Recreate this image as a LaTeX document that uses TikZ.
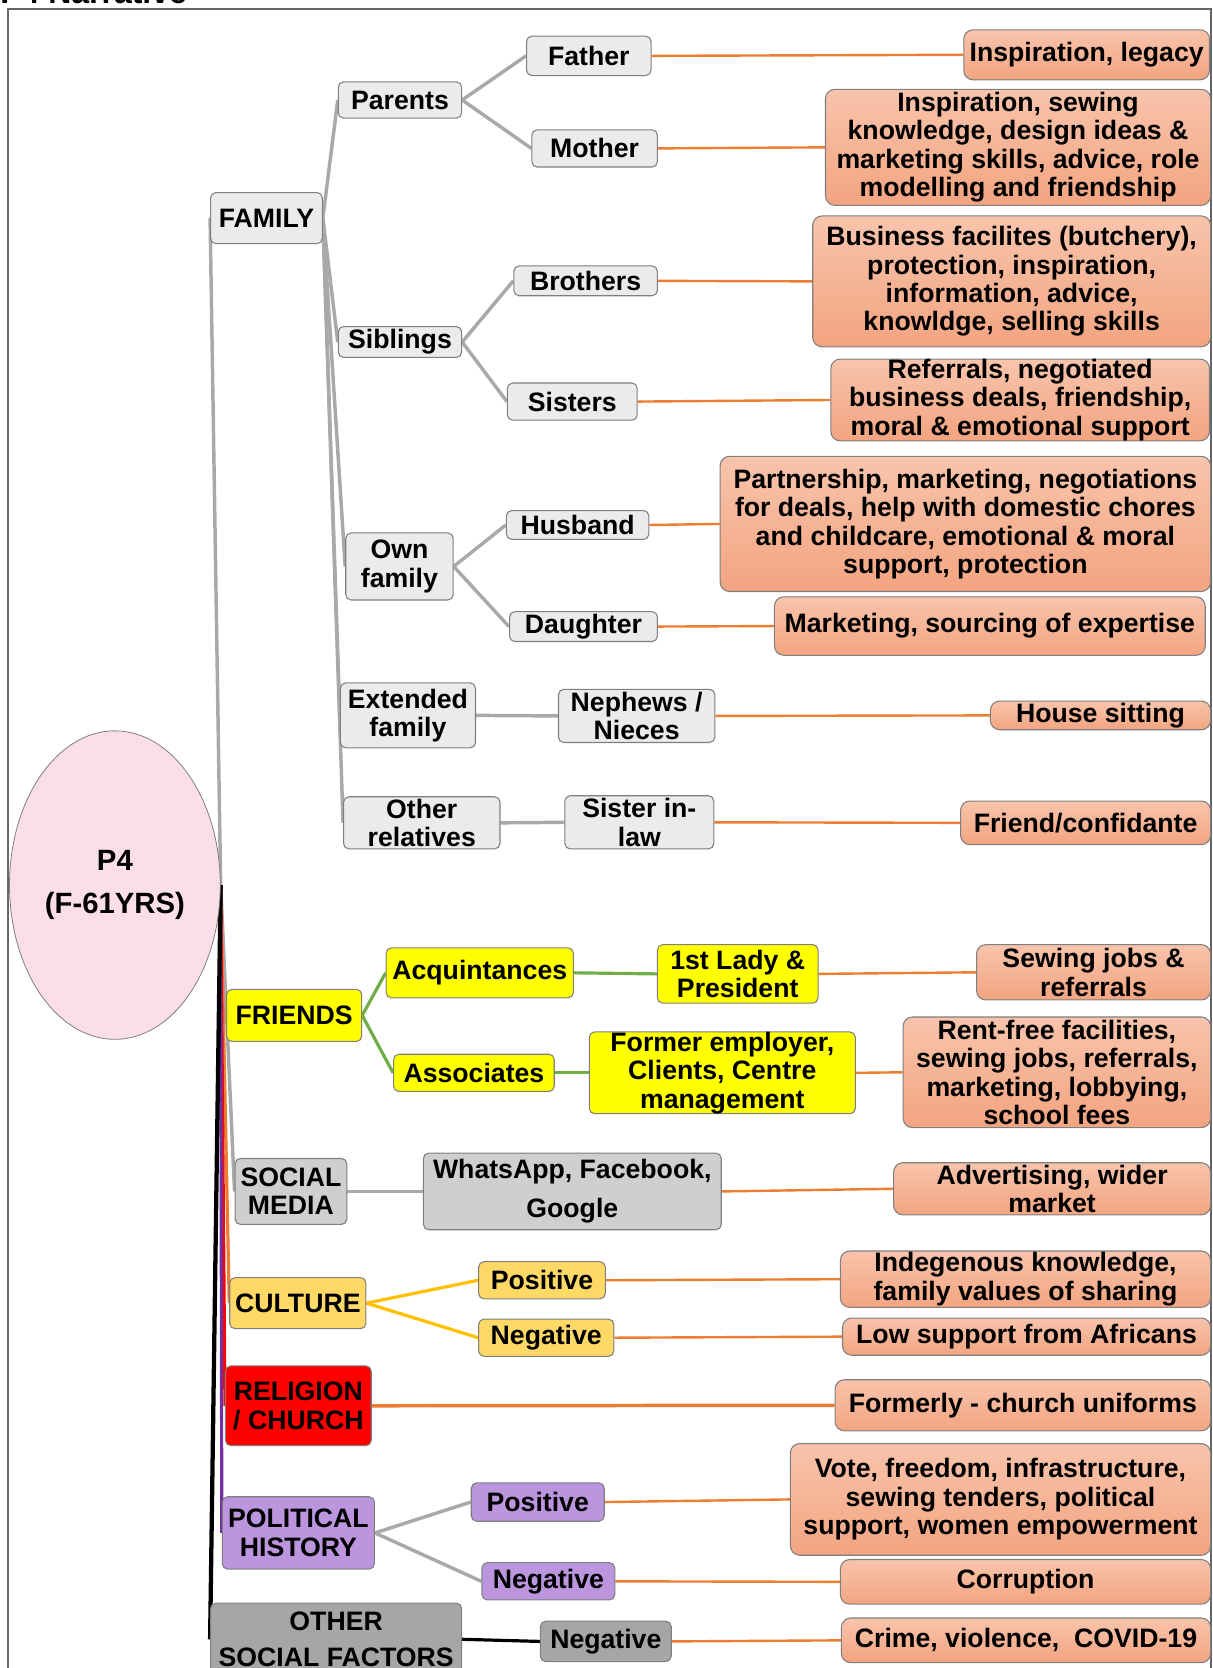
\documentclass[tikz,border=0pt]{standalone}
\usepackage{fontspec}
\setmainfont{Liberation Sans}
\usetikzlibrary{shapes.geometric}
\pgfdeclarelayer{bg}
\pgfsetlayers{bg,main}
\definecolor{famfill}{HTML}{EBEBEB}
\definecolor{boxline}{HTML}{7F7F7F}
\definecolor{leaftop}{RGB}{248,196,172}
\definecolor{leafbot}{RGB}{243,164,128}
\definecolor{yel}{HTML}{FFFF00}
\definecolor{smgray}{HTML}{D0CECE}
\definecolor{cult}{HTML}{FFD966}
\definecolor{relred}{HTML}{FF0000}
\definecolor{pol}{HTML}{BB95DD}
\definecolor{othgray}{HTML}{A6A6A6}
\definecolor{egofill}{RGB}{252,222,231}
\definecolor{lgray}{HTML}{A9A9A9}
\definecolor{orng}{HTML}{ED7D31}
\definecolor{grn}{HTML}{70AD47}
\definecolor{gold}{HTML}{FFC000}
\definecolor{purp}{HTML}{7030A0}
\tikzset{
  base/.style={draw=boxline, line width=0.8pt, rounded corners=4pt, inner sep=0pt,
    align=center, font=\bfseries\fontsize{20}{21.3}\selectfont},
  fam/.style={base, fill=famfill},
  leaf/.style={base, top color=leaftop, bottom color=leafbot, rounded corners=7pt},
  yelbox/.style={base, fill=yel},
  smbox/.style={base, fill=smgray},
  cultbox/.style={base, fill=cult},
  relbox/.style={base, fill=relred},
  polbox/.style={base, fill=pol},
  othbox/.style={base, fill=othgray},
  grayline/.style={draw=lgray, line width=2.6pt},
  orline/.style={draw=orng, line width=1.8pt},
  grline/.style={draw=grn, line width=2.4pt},
  goldline/.style={draw=gold, line width=2.4pt},
  blkline/.style={draw=black, line width=2.4pt},
}
\newcommand\mybox[7]{%
  \pgfmathsetmacro\mbw{(#5-#3)*0.798}%
  \pgfmathsetmacro\mbh{(#6-#4)*0.798}%
  \node[#2, minimum width=\mbw pt, minimum height=\mbh pt] (#1) at ({(#3+#5)/2},{(#4+#6)/2+1}) {#7};%
}
\begin{document}
\begin{tikzpicture}[x=0.798pt,y=-0.798pt]
\useasboundingbox (0,0) rectangle (1140,1568);
% frame and title
\draw[draw=boxline!80!black, line width=1.5pt] (7.5,1600) -- (7.5,8.5) -- (1138,8.5) -- (1138,1600);
\node[anchor=base west, inner sep=0pt, font=\bfseries\fontsize{24}{24}\selectfont] (title) at (0,3) {P4 Narrative};

% ego
\node[ellipse, draw=boxline, line width=0.6pt, fill=egofill, minimum width=196*0.798pt, minimum height=290*0.798pt,
  align=center, font=\bfseries\fontsize{22}{32}\selectfont] (ego) at (108,832) {P4\\(F-61YRS)};

% FAMILY
\mybox{family}{fam}{198}{180}{303}{228}{FAMILY}
\mybox{parents}{fam}{318}{76}{434}{110}{Parents}
\mybox{siblings}{fam}{318}{306}{434}{335}{Siblings}
\mybox{ownfam}{fam}{325}{500}{426}{563}{Own\\family}
\mybox{extfam}{fam}{320}{641}{447}{702}{Extended\\family}
\mybox{othrel}{fam}{323}{748}{470}{797}{Other\\relatives}
\mybox{father}{fam}{495}{33}{612}{70}{Father}
\mybox{mother}{fam}{500}{121}{618}{156}{Mother}
\mybox{brothers}{fam}{483}{249}{618}{277}{Brothers}
\mybox{sisters}{fam}{477}{359}{599}{394}{Sisters}
\mybox{husband}{fam}{476}{479}{610}{506}{Husband}
\mybox{daughter}{fam}{479}{574}{618}{602}{Daughter}
\mybox{nephews}{fam}{525}{647}{672}{697}{Nephews /\\Nieces}
\mybox{sil}{fam}{531}{747}{671}{797}{Sister in-\\law}

% leaves
\mybox{lfather}{leaf}{906}{27}{1137}{74}{Inspiration, legacy}
\mybox{lmother}{leaf}{776}{83}{1138}{192}{Inspiration, sewing\\knowledge, design ideas \&\\marketing skills, advice, role\\modelling and friendship}
\mybox{lbrothers}{leaf}{764}{202}{1138}{325}{Business facilites (butchery),\\protection, inspiration,\\information, advice,\\knowldge, selling skills}
\mybox{lsisters}{leaf}{781}{337}{1137}{413}{Referrals, negotiated\\business deals, friendship,\\moral \& emotional support}
\mybox{lhusband}{leaf}{677}{428}{1138}{555}{Partnership, marketing, negotiations\\for deals, help with domestic chores\\and childcare, emotional \& moral\\support, protection}
\mybox{ldaughter}{leaf}{728}{560}{1133}{615}{Marketing, sourcing of expertise}
\mybox{lnephews}{leaf}{931}{658}{1138}{685}{House sitting}
\mybox{lsil}{leaf}{903}{752}{1138}{793}{Friend/confidante}

% FRIENDS
\mybox{friends}{yelbox}{213}{929}{340}{978}{FRIENDS}
\mybox{acq}{yelbox}{363}{890}{539}{937}{Acquintances}
\mybox{assoc}{yelbox}{370}{990}{521}{1025}{Associates}
\mybox{lady}{yelbox}{618}{887}{769}{942}{1st Lady \&\\President}
\mybox{former}{yelbox}{554}{970}{804}{1045}{Former employer,\\Clients, Centre\\management}
\mybox{llady}{leaf}{918}{887}{1138}{939}{Sewing jobs \&\\referrals}
\mybox{lformer}{leaf}{849}{955}{1138}{1059}{Rent-free facilities,\\sewing jobs, referrals,\\marketing, lobbying,\\school fees}

% SOCIAL MEDIA
\mybox{social}{smbox}{221}{1088}{326}{1150}{SOCIAL\\MEDIA}
\mybox{whats}{smbox, font=\bfseries\fontsize{20}{29.5}\selectfont}{398}{1083}{678}{1155}{WhatsApp, Facebook,\\Google}
\mybox{lwhats}{leaf}{840}{1092}{1138}{1141}{Advertising, wider\\market}

% CULTURE
\mybox{culture}{cultbox}{216}{1200}{344}{1248}{CULTURE}
\mybox{cpos}{cultbox}{450}{1185}{569}{1220}{Positive}
\mybox{cneg}{cultbox}{450}{1239}{577}{1274}{Negative}
\mybox{lcpos}{leaf}{790}{1175}{1138}{1228}{Indegenous knowledge,\\family values of sharing}
\mybox{lcneg}{leaf}{792}{1238}{1138}{1273}{Low support from Africans}

% RELIGION
\mybox{religion}{relbox}{212}{1283}{349}{1358}{RELIGION\\/ CHURCH}
\mybox{lrel}{leaf}{785}{1296}{1138}{1344}{Formerly - church uniforms}

% POLITICAL
\mybox{political}{polbox}{209}{1406}{352}{1474}{POLITICAL\\HISTORY}
\mybox{ppos}{polbox}{443}{1393}{568}{1429}{Positive}
\mybox{pneg}{polbox}{453}{1468}{578}{1503}{Negative}
\mybox{lppos}{leaf}{743}{1356}{1138}{1461}{Vote, freedom, infrastructure,\\sewing tenders, political\\support, women empowerment}
\mybox{lpneg}{leaf}{790}{1465}{1138}{1507}{Corruption}

% OTHER
\mybox{other}{othbox, font=\bfseries\fontsize{20}{27}\selectfont}{198}{1506}{434}{1574}{OTHER\\SOCIAL FACTORS}
\mybox{oneg}{othbox}{508}{1523}{631}{1561}{Negative}
\mybox{loneg}{leaf}{791}{1520}{1138}{1562}{Crime, violence,\ \ COVID-19}

\begin{pgfonlayer}{bg}
% trunk
\draw[grayline] (ego.east) -- (family.west);
\draw[draw=yel, line width=2.4pt] (ego.east) -- (friends.west);
\draw[grayline] (ego.east) -- (social.west);
\draw[draw=orng, line width=2.4pt] (ego.east) -- (culture.west);
\draw[draw=relred, line width=2.4pt] (ego.east) -- (religion.west);
\draw[draw=purp, line width=2.4pt] (ego.east) -- (political.west);
\draw[draw=black, line width=3.2pt] (ego.east) -- (other.west);
% family
\foreach \c in {parents,siblings,ownfam,extfam,othrel}
  \draw[grayline] (family.east) -- (\c.west);
\draw[grayline] (parents.east) -- (father.west);
\draw[grayline] (parents.east) -- (mother.west);
\draw[grayline] (siblings.east) -- (brothers.west);
\draw[grayline] (siblings.east) -- (sisters.west);
\draw[grayline] (ownfam.east) -- (husband.west);
\draw[grayline] (ownfam.east) -- (daughter.west);
\draw[grayline] (extfam.east) -- (nephews.west);
\draw[grayline] (othrel.east) -- (sil.west);
\draw[orline] (father.east) -- (lfather.west);
\draw[orline] (mother.east) -- (lmother.west);
\draw[orline] (brothers.east) -- (lbrothers.west);
\draw[orline] (sisters.east) -- (lsisters.west);
\draw[orline] (husband.east) -- (lhusband.west);
\draw[orline] (daughter.east) -- (ldaughter.west);
\draw[orline] (nephews.east) -- (lnephews.west);
\draw[orline] (sil.east) -- (lsil.west);
% friends
\draw[grline] (friends.east) -- (acq.west);
\draw[grline] (friends.east) -- (assoc.west);
\draw[grline] (acq.east) -- (lady.west);
\draw[grline] (assoc.east) -- (former.west);
\draw[orline] (lady.east) -- (llady.west);
\draw[orline] (former.east) -- (lformer.west);
% social media
\draw[grayline] (social.east) -- (whats.west);
\draw[orline] (whats.east) -- (lwhats.west);
% culture
\draw[goldline] (culture.east) -- (cpos.west);
\draw[goldline] (culture.east) -- (cneg.west);
\draw[orline] (cpos.east) -- (lcpos.west);
\draw[orline] (cneg.east) -- (lcneg.west);
% religion
\draw[draw=orng, line width=2.6pt] (religion.east) -- (lrel.west);
% political
\draw[grayline] (political.east) -- (ppos.west);
\draw[grayline] (political.east) -- (pneg.west);
\draw[orline] (ppos.east) -- (lppos.west);
\draw[orline] (pneg.east) -- (lpneg.west);
% other
\draw[blkline] (other.east) -- (oneg.west);
\draw[orline] (oneg.east) -- (loneg.west);
\end{pgfonlayer}
\end{tikzpicture}
\end{document}
